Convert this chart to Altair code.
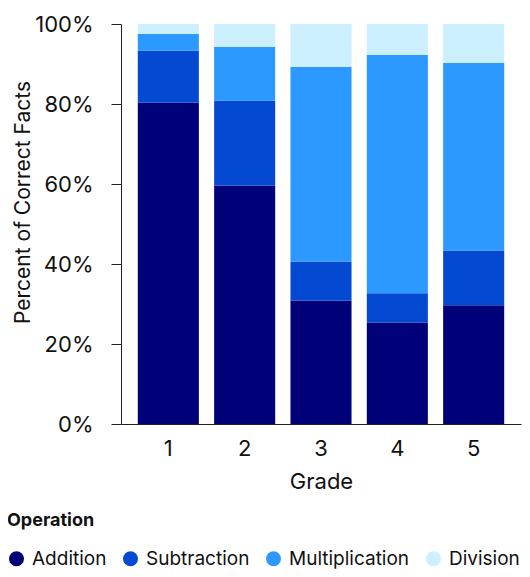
import altair as alt
import pandas as pd

grades = ["1", "2", "3", "4", "5"]
operations = ["Addition", "Subtraction", "Multiplication", "Division"]
addition = [80.3, 59.6, 30.9, 25.4, 29.7]
subtraction = [13.0, 21.2, 9.7, 7.3, 13.7]
multiplication = [4.2, 13.5, 48.7, 59.6, 46.9]
division = [2.5, 5.7, 10.7, 7.7, 9.7]
colors = ["#000078", "#0449D1", "#2B99FF", "#CCF0FF"]

series = [addition, subtraction, multiplication, division]
rows = []
for oi, (op, vals) in enumerate(zip(operations, series)):
    for g, v in zip(grades, vals):
        rows.append({"Grade": g, "Operation": op, "Value": v, "idx": oi})
df = pd.DataFrame(rows)

FONT = "Inter"
TEXT = "#111111"

chart = alt.Chart(df).mark_bar().encode(
    x=alt.X("Grade:N", sort=grades,
            scale=alt.Scale(paddingInner=0.2, paddingOuter=0.22),
            axis=alt.Axis(title="Grade", labelAngle=0, ticks=False, labelPadding=14,
                          titlePadding=12, domainColor="#222222", labelColor=TEXT,
                          labelFontSize=22, titleFontSize=22)),
    y=alt.Y("Value:Q", stack="zero",
            scale=alt.Scale(domain=[0, 100], nice=False),
            axis=alt.Axis(title="Percent of Correct Facts", values=[0, 20, 40, 60, 80, 100],
                          labelExpr="datum.value + '%'", grid=False, tickSize=10,
                          labelPadding=18, titleX=-88, titleY=178,
                          domainColor="#222222", tickColor="#222222", labelColor=TEXT,
                          labelFontSize=22, titleFontSize=21)),
    color=alt.Color("Operation:N", sort=operations,
                    scale=alt.Scale(domain=operations, range=colors),
                    legend=alt.Legend(title="Operation", orient="none", direction="horizontal",
                                      legendX=-114, legendY=488,
                                      symbolType="circle", symbolSize=225, symbolStrokeWidth=0,
                                      labelFontSize=19, titleFontSize=18, titleFontWeight="bold",
                                      titlePadding=19, labelOffset=6, columnPadding=14,
                                      labelColor=TEXT, titleColor=TEXT)),
    order=alt.Order("idx:Q", sort="ascending"),
).properties(
    width=400, height=400,
    autosize=alt.AutoSizeParams(type="none"),
    padding={"left": 113, "top": 16, "right": 1, "bottom": 145},
).configure(
    font=FONT,
).configure_view(
    stroke=None,
).configure_axis(
    titleFontWeight="normal", titleColor=TEXT, labelFont=FONT, titleFont=FONT,
).configure_legend(
    labelFont=FONT, titleFont=FONT,
)

chart.save("out.html", embed_options={"renderer": "svg", "actions": False})
